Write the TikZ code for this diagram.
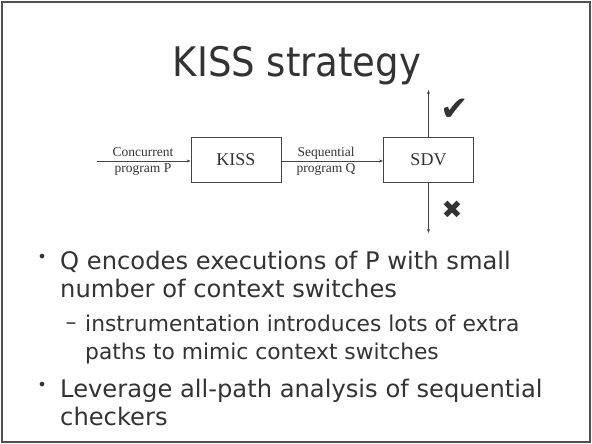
\documentclass[tikz,border=0pt]{standalone}
\usepackage{fontspec}
\setmainfont{Liberation Serif}
\newfontfamily\slidefont{DejaVu Sans}
\newfontfamily\symfont{DejaVu Sans}
\usetikzlibrary{arrows.meta}
\definecolor{txt}{HTML}{333333}
\definecolor{framec}{HTML}{505050}
\definecolor{linec}{HTML}{444444}
\tikzset{
  procbox/.style={draw=linec, line width=0.8pt, minimum width=90pt, minimum height=45pt, inner sep=0pt, font=\fontsize{18}{20}\selectfont, text=txt},
  flow/.style={draw=linec, line width=0.7pt, -{Stealth[length=4pt,width=3pt]}},
  elabel/.style={font=\fontsize{13.5}{15}\selectfont, text=txt, inner sep=0pt},
  bodytext/.style={anchor=base west, inner sep=0pt, text=txt, font=\slidefont\fontsize{24.2}{28}\selectfont},
  subtext/.style={anchor=base west, inner sep=0pt, text=txt, font=\slidefont\fontsize{21.8}{24}\selectfont},
  bulletmark/.style={anchor=base, inner sep=0pt, text=txt, font=\slidefont\fontsize{16}{18}\selectfont}
}
\begin{document}
\begin{tikzpicture}[x=1pt,y=-1pt]
\useasboundingbox (0,0) rectangle (592,444);
\draw[framec, line width=2pt] (2,2) rectangle (590,442);

\node[anchor=base, inner sep=0pt, text=txt, font=\slidefont\fontsize{37}{42}\selectfont] (title) at (297,77) {\scalebox{1}[1.1]{KISS strategy}};

\node[procbox] (kiss) at (236,160) {KISS};
\node[procbox] (sdv) at (428.5,160) {SDV};
\coordinate (src) at (97,161);
\coordinate (okend) at (428.5,90);
\coordinate (failend) at (428.5,233);

\draw[flow] (src) -- (kiss.west |- src);
\draw[flow] (kiss.east |- src) -- (sdv.west |- src);
\draw[flow] (sdv.north) -- (okend);
\draw[flow] (sdv.south) -- (failend);

\node[elabel, anchor=base] (l1) at (143,156) {Concurrent};
\node[elabel, anchor=base] (l2) at (143,172) {program P};
\node[elabel, anchor=base] (l3) at (326,156) {Sequential};
\node[elabel, anchor=base] (l4) at (326,172) {program Q};

\node[inner sep=0pt, text=txt, font=\symfont\fontsize{34}{36}\selectfont] (ok) at (455,110) {✔};
\node[inner sep=0pt, text=txt, font=\symfont\fontsize{25}{27}\selectfont] (fail) at (452,210) {✖};

\node[bulletmark] (b1) at (42,262) {•};
\node[bodytext] (t1) at (60,269) {Q encodes executions of P with small};
\node[bodytext] (t2) at (60,297) {number of context switches};
\node[bulletmark, font=\slidefont\fontsize{21.8}{24}\selectfont] (b2) at (71,329) {–};
\node[subtext] (t3) at (85,331) {instrumentation introduces lots of extra};
\node[subtext] (t4) at (85,359) {paths to mimic context switches};
\node[bulletmark] (b3) at (42,390) {•};
\node[bodytext] (t5) at (60,397) {Leverage all-path analysis of sequential};
\node[bodytext] (t6) at (60,425) {checkers};
\end{tikzpicture}
\end{document}
